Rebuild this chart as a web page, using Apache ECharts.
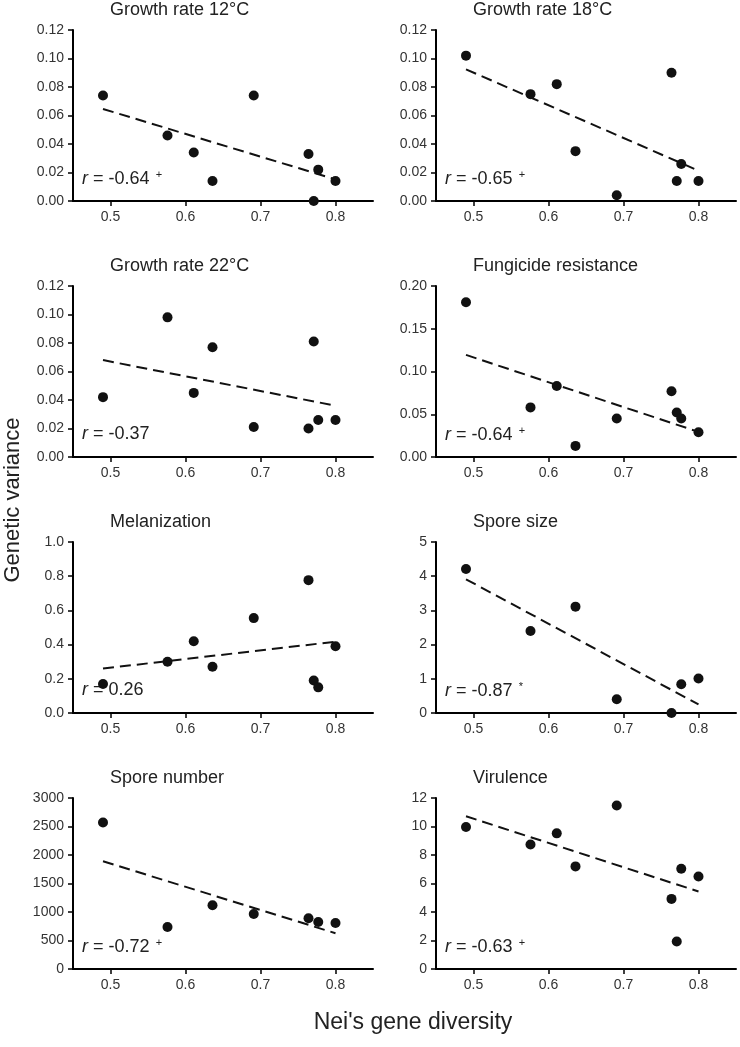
<!DOCTYPE html>
<html>
<head>
<meta charset="utf-8">
<script src="https://cdn.jsdelivr.net/npm/echarts@6/dist/echarts.min.js"></script>
<style>html,body{margin:0;padding:0;background:#fff}#c{width:740px;height:1047px}</style>
</head>
<body>
<div id="c"></div>
<script>
// ---- data ----
const diversity = [0.49, 0.576, 0.611, 0.636, 0.691, 0.764, 0.771, 0.777, 0.80];
const titles = ['Growth rate 12°C', 'Growth rate 18°C', 'Growth rate 22°C', 'Fungicide resistance',
                'Melanization', 'Spore size', 'Spore number', 'Virulence'];
const growth12 = [0.074, 0.046, 0.034, 0.014, 0.074, 0.033, 0.000, 0.022, 0.014];
const growth18 = [0.102, 0.075, 0.082, 0.035, 0.004, 0.090, 0.014, 0.026, 0.014];
const growth22 = [0.042, 0.098, 0.045, 0.077, 0.021, 0.020, 0.081, 0.026, 0.026];
const fungicide = [0.181, 0.058, 0.083, 0.013, 0.045, 0.077, 0.052, 0.045, 0.029];
const melanization = [0.17, 0.30, 0.42, 0.27, 0.555, 0.777, 0.19, 0.15, 0.39];
const sporeSize = [4.21, 2.40, null, 3.11, 0.40, 0.0, null, 0.84, 1.01];
const sporeNumber = [2570, 738, null, 1117, 965, 889, null, 825, 807];
const virulence = [9.96, 8.74, 9.52, 7.20, 11.47, 4.92, 1.93, 7.03, 6.49];
const trendX = [0.49, 0.80];
const trend12 = [0.0646, 0.0152];
const trend18 = [0.0924, 0.0213];
const trend22 = [0.068, 0.036];
const trendFung = [0.1194, 0.0294];
const trendMel = [0.26, 0.417];
const trendSize = [3.91, 0.25];
const trendNumber = [1890, 628];
const trendVir = [10.72, 5.44];
const rValues = ['-0.64', '-0.65', '-0.37', '-0.64', '0.26', '-0.87', '-0.72', '-0.63'];
const rMarks = ['+', '+', '', '+', '', '*', '+', '+'];
const yMax = [0.12, 0.12, 0.12, 0.20, 1.0, 5, 3000, 12];
const yStep = [0.02, 0.02, 0.02, 0.05, 0.2, 1, 500, 2];
const yDecimals = [2, 2, 2, 2, 1, 0, 0, 0];
const xTicks = [0.5, 0.6, 0.7, 0.8];
const xMin = 0.45, xMax = 0.85;

const seriesValues = [growth12, growth18, growth22, fungicide, melanization, sporeSize, sporeNumber, virulence];
const trends = [trend12, trend18, trend22, trendFung, trendMel, trendSize, trendNumber, trendVir];

// ---- layout ----
const colLeft = [73, 436];
const rowTop = [30, 286, 542, 798];
const gW = 300, gH = 171;
const FONT = 'Liberation Sans, Arial, sans-serif';
const TXT = '#222';

const grid = [], xAxis = [], yAxis = [], series = [], graphic = [];
for (let i = 0; i < 8; i++) {
  const col = i % 2, row = Math.floor(i / 2);
  const left = colLeft[col], top = rowTop[row];
  grid.push({ left: left, top: top, width: gW, height: gH });
  xAxis.push({
    gridIndex: i, type: 'value', min: xMin, max: xMax,
    axisLine: { show: true, onZero: false, lineStyle: { color: '#000', width: 2 } },
    axisTick: { show: true, length: 5, inside: false, customValues: xTicks, lineStyle: { color: '#000', width: 1.5 } },
    axisLabel: { customValues: xTicks, color: '#333', fontFamily: FONT, fontSize: 14, margin: 9,
                 formatter: v => v.toFixed(1) },
    splitLine: { show: false }
  });
  const d = yDecimals[i];
  yAxis.push({
    gridIndex: i, type: 'value', min: 0, max: yMax[i], interval: yStep[i],
    axisLine: { show: true, lineStyle: { color: '#000', width: 2 } },
    axisTick: { show: true, length: 5, inside: false, lineStyle: { color: '#000', width: 1.5 } },
    axisLabel: { color: '#333', fontFamily: FONT, fontSize: 14, margin: 9,
                 formatter: v => v.toFixed(d) },
    splitLine: { show: false }
  });
  const pts = [];
  diversity.forEach((x, k) => { const v = seriesValues[i][k]; if (v !== null) pts.push([x, v]); });
  series.push({
    type: 'scatter', xAxisIndex: i, yAxisIndex: i, data: pts,
    symbol: 'circle', symbolSize: 10, itemStyle: { color: '#111', opacity: 1 },
    z: 3, silent: true, animation: false
  });
  series.push({
    type: 'line', xAxisIndex: i, yAxisIndex: i,
    data: [[trendX[0], trends[i][0]], [trendX[1], trends[i][1]]],
    symbol: 'none', lineStyle: { color: '#111', width: 2, type: [11, 6] },
    z: 2, silent: true, animation: false
  });
  // panel title
  graphic.push({
    type: 'text', left: left + 37, top: top - 29,
    style: { text: titles[i], font: '18px ' + FONT, fill: TXT }
  });
  // r label
  graphic.push({
    type: 'text', left: left + 9, top: top + gH - 32,
    style: {
      text: '{r|r}{t| = ' + rValues[i] + '}' + (rMarks[i] ? '{s|  ' + rMarks[i] + '}' : ''),
      rich: {
        r: { fontFamily: FONT, fontSize: 18, fontStyle: 'italic', fill: TXT, color: TXT },
        t: { fontFamily: FONT, fontSize: 18, fill: TXT, color: TXT },
        s: { fontFamily: FONT, fontSize: 11, fill: TXT, color: TXT, verticalAlign: 'top', padding: [0, 0, 9, 0] }
      }
    }
  });
}

graphic.push({
  type: 'text', x: 13, y: 500, rotation: Math.PI / 2,
  style: { text: 'Genetic variance', font: '22px ' + FONT, fill: TXT, textAlign: 'center', textVerticalAlign: 'middle' }
});
graphic.push({
  type: 'text', x: 413, y: 1023,
  style: { text: "Nei's gene diversity", font: '23px ' + FONT, fill: TXT, textAlign: 'center', textVerticalAlign: 'middle' }
});

const chart = echarts.init(document.getElementById('c'), null, { renderer: 'canvas' });
chart.setOption({
  animation: false,
  backgroundColor: '#fff',
  grid: grid, xAxis: xAxis, yAxis: yAxis, series: series, graphic: graphic
});
</script>
</body>
</html>
